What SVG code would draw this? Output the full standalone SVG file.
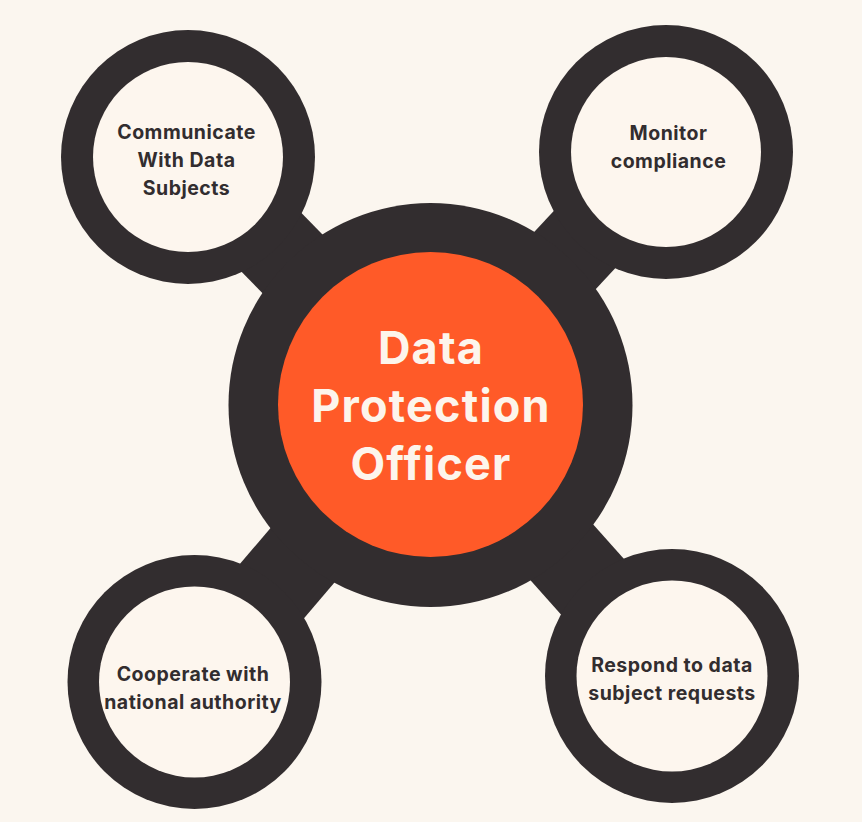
<svg xmlns="http://www.w3.org/2000/svg" width="862" height="822" viewBox="0 0 862 822">
<style>
.ring{fill:#322d2f}
.inner{fill:#fdf6ee}
.core{fill:#ff5a28}
.bar{stroke:#322d2f;stroke-width:84;stroke-linecap:butt}
.lbl{font-family:Inter,"Liberation Sans",Arial,sans-serif;font-weight:700;font-size:19.5px;letter-spacing:0.5px;fill:#322d2f;text-anchor:middle}
.title{font-family:Inter,"Liberation Sans",Arial,sans-serif;font-weight:700;font-size:45px;letter-spacing:1.2px;fill:#fdf5ec;text-anchor:middle}
</style>
<rect width="862" height="822" fill="#fbf6ef"/>
<g id="connectors">
<line class="bar" x1="188" y1="157" x2="430.5" y2="405"/>
<line class="bar" x1="666" y1="152" x2="430.5" y2="405"/>
<line class="bar" x1="194.5" y1="682" x2="430.5" y2="405"/>
<line class="bar" x1="672" y1="676" x2="430.5" y2="405"/>
</g>
<g id="center">
<circle class="ring" cx="430.5" cy="405" r="202"/>
<circle class="core" cx="430.5" cy="404.5" r="152.5"/>
<text class="title" x="431" y="364">Data</text>
<text class="title" x="431" y="422">Protection</text>
<text class="title" x="431" y="480">Officer</text>
</g>
<g id="communicate">
<circle class="ring" cx="188" cy="157" r="127"/>
<circle class="inner" cx="188" cy="157" r="95"/>
<text class="lbl" x="186.5" y="139">Communicate</text>
<text class="lbl" x="186.5" y="167">With Data</text>
<text class="lbl" x="186.5" y="195">Subjects</text>
</g>
<g id="monitor">
<circle class="ring" cx="666" cy="152" r="127"/>
<circle class="inner" cx="666" cy="152" r="95"/>
<text class="lbl" x="668.5" y="140">Monitor</text>
<text class="lbl" x="668.5" y="168">compliance</text>
</g>
<g id="cooperate">
<circle class="ring" cx="194.5" cy="682" r="127"/>
<circle class="inner" cx="194.5" cy="682" r="95.5"/>
<text class="lbl" x="193" y="681">Cooperate with</text>
<text class="lbl" x="193" y="709">national authority</text>
</g>
<g id="respond">
<circle class="ring" cx="672" cy="676" r="127"/>
<circle class="inner" cx="672" cy="676" r="95.5"/>
<text class="lbl" x="672" y="672">Respond to data</text>
<text class="lbl" x="672" y="700">subject requests</text>
</g>
</svg>
